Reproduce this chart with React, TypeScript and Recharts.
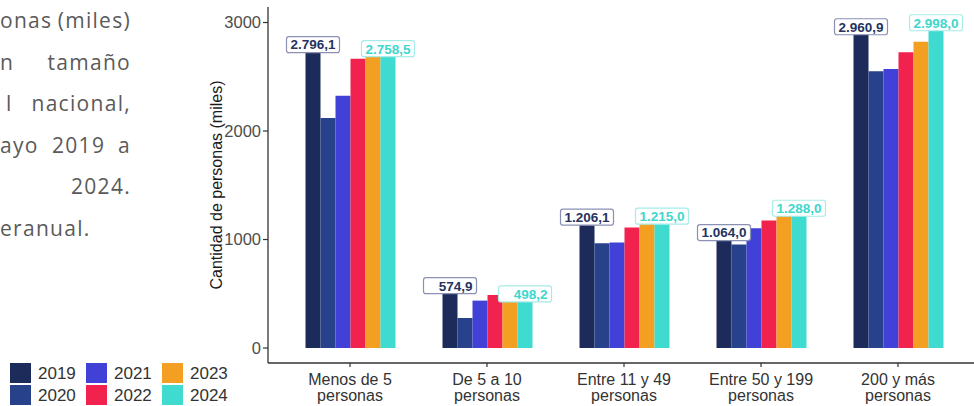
import { BarChart, Bar, XAxis, YAxis, LabelList, Label } from "recharts";

// categorias (tamano de empresa) y valores por año, en miles de personas
const categories = [
    "Menos de 5\npersonas",
    "De 5 a 10\npersonas",
    "Entre 11 y 49\npersonas",
    "Entre 50 y 199\npersonas",
    "200 y más\npersonas",
];
const years = ["2019", "2020", "2021", "2022", "2023", "2024"];
const colors = ["#1c2b5a", "#27418a", "#4141d8", "#f2224f", "#f29f22", "#3fdbd0"];

const v2019 = [2796.1, 574.9, 1206.1, 1064.0, 2960.9];
const v2020 = [2120, 277, 966, 955, 2550];
const v2021 = [2326, 437, 972, 1105, 2572];
const v2022 = [2665, 489, 1110, 1175, 2726];
const v2023 = [2700, 445, 1160, 1218, 2822];
const v2024 = [2758.5, 498.2, 1215.0, 1288.0, 2998.0];
const series = [v2019, v2020, v2021, v2022, v2023, v2024];

const yTicks = [0, 1000, 2000, 3000];

const data = categories.map((cat, i) => {
    const row: Record<string, string | number> = { cat };
    years.forEach((y, k) => {
        row[y] = series[k][i];
    });
    return row;
});

const fmt = (v: number) => {
    const [int, dec] = v.toFixed(1).split(".");
    return int.replace(/\B(?=(\d{3})+(?!\d))/g, ".") + "," + dec;
};

const boxLabel = (border: string, textColor: string) => (props: any) => {
    const cx = Number(props.x) + Number(props.width) / 2;
    const cy = Number(props.y);
    const w = 53;
    const h = 16;
    return (
        <g>
            <rect x={cx - w / 2} y={cy - h / 2} width={w} height={h} rx={2.5}
                fill="#fff" stroke={border} strokeWidth={1.2} />
            <text x={cx + w / 2 - 4} y={cy} dy="0.36em" textAnchor="end"
                fontSize={13.5} fontWeight={700} fill={textColor}
                fontFamily="'Liberation Sans', Arial, sans-serif">
                {fmt(Number(props.value))}
            </text>
        </g>
    );
};

const CatTick = ({ x, y, payload }: any) => {
    const [l1, l2] = String(payload.value).split("\n");
    return (
        <g fontSize={16} fill="#333" fontFamily="'Liberation Sans', Arial, sans-serif">
            <text x={x} y={y + 16} textAnchor="middle">{l1}</text>
            <text x={x} y={y + 32} textAnchor="middle">{l2}</text>
        </g>
    );
};

const sideFont = "'Open Sans', sans-serif";

const SideText = () => (
    <svg width={974} height={406} style={{ position: "absolute", left: 0, top: 0 }}>
        <g fontFamily={sideFont} fontSize={21} fill="#5a5a5a" letterSpacing={1.3}>
            <text x={0} y={28}>onas</text>
            <text x={131} y={28} textAnchor="end">(miles)</text>
            <text x={0} y={70}>n</text>
            <text x={131} y={70} textAnchor="end">tamaño</text>
            <text x={6} y={111}>l</text>
            <text x={131} y={111} textAnchor="end">nacional,</text>
            <text x={0} y={153}>ayo</text>
            <text x={52} y={153}>2019</text>
            <text x={131} y={153} textAnchor="end">a</text>
            <text x={131} y={194} textAnchor="end">2024.</text>
            <text x={0} y={236}>eranual.</text>
        </g>
        <g fontFamily="'Liberation Sans', Arial, sans-serif" fontSize={17} fill="#333">
            {years.map((yr, k) => {
                const col = Math.floor(k / 2);
                const row = k % 2;
                const sx = [10, 86, 162][col];
                const sy = 363 + row * 22;
                return (
                    <g key={yr}>
                        <rect x={sx} y={sy} width={21} height={20} fill={colors[k]} />
                        <text x={sx + 28} y={sy + 16}>{yr}</text>
                    </g>
                );
            })}
        </g>
    </svg>
);

const App = () => {
    return (
        <div style={{ position: "absolute", left: 0, top: 0, width: 974, height: 406, background: "#fff" }}>
            <SideText />
            <div style={{ position: "absolute", left: 0, top: 0 }}>
                <BarChart
                    width={974}
                    height={406}
                    data={data}
                    margin={{ top: 7, right: 0, bottom: 0, left: 200 }}
                    barGap={0}
                    barSize={15}
                >
                    <XAxis
                        dataKey="cat"
                        height={43}
                        interval={0}
                        padding={{ left: 13.5, right: 7.5 }}
                        tickSize={4}
                        axisLine={{ stroke: "#333", strokeWidth: 1.3 }}
                        tickLine={{ stroke: "#333", strokeWidth: 1.2 }}
                        tick={<CatTick />}
                    />
                    <YAxis
                        width={68}
                        type="number"
                        domain={[-138, 3143]}
                        allowDataOverflow
                        ticks={yTicks}
                        tickSize={5}
                        tickMargin={2}
                        axisLine={{ stroke: "#333", strokeWidth: 1.3 }}
                        tickLine={{ stroke: "#333", strokeWidth: 1.2 }}
                        tick={{ fontSize: 16.5, fill: "#4d4d4d", fontFamily: "'Liberation Sans', Arial, sans-serif" }}
                    >
                        <Label
                            content={(p: any) => {
                                const vb = p.viewBox || { x: 200, y: 7, height: 356 };
                                const lx = vb.x + 16;
                                const ly = vb.y + vb.height / 2;
                                return (
                                    <text x={lx} y={ly} transform={`rotate(-90 ${lx} ${ly})`}
                                        textAnchor="middle" dominantBaseline="central"
                                        fontSize={16} fill="#1a1a1a"
                                        fontFamily="'Liberation Sans', Arial, sans-serif">
                                        Cantidad de personas (miles)
                                    </text>
                                );
                            }}
                        />
                    </YAxis>
                    {years.map((yr, k) => (
                        <Bar key={yr} dataKey={yr} fill={colors[k]} isAnimationActive={false}>
                            {k === 0 && (
                                <LabelList dataKey={yr} content={boxLabel("#8a91b4", "#26335f")} />
                            )}
                            {k === years.length - 1 && (
                                <LabelList dataKey={yr} content={boxLabel("#a6ece7", "#3fd6cc")} />
                            )}
                        </Bar>
                    ))}
                </BarChart>
            </div>
        </div>
    );
};

export default App;
